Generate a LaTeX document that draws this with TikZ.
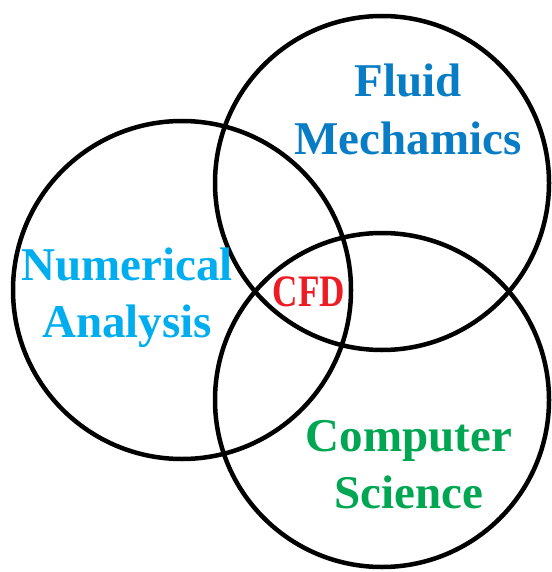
\documentclass[tikz,border=0pt]{standalone}
\usepackage{fontspec}
\setmainfont{Liberation Serif}
\definecolor{fluidblue}{RGB}{8,124,196}
\definecolor{numcyan}{RGB}{0,174,239}
\definecolor{cfdred}{RGB}{237,28,36}
\definecolor{csgreen}{RGB}{0,166,81}
\begin{document}
\begin{tikzpicture}[x=1pt,y=-1pt,
  ring/.style={draw=black,line width=4.5pt},
  lbl/.style={font=\bfseries\fontsize{47}{57}\selectfont,align=center,inner sep=0pt,anchor=base}]
\useasboundingbox (0,0) rectangle (551,572);
\coordinate (cf) at (382,183);
\coordinate (cn) at (182,290);
\coordinate (cc) at (382,400);
\draw[ring] (cf) circle[radius=167];
\draw[ring] (cn) circle[radius=169];
\draw[ring] (cc) circle[radius=167];
\node[lbl,text=fluidblue] (fm) at (408,154) {Fluid\\Mechamics};
\node[lbl,text=numcyan] (na) at (127,337) {Numerical\\Analysis};
\node[lbl,text=csgreen] (cs) at (409,508) {Computer\\Science};
\node[inner sep=0pt,anchor=base,text=cfdred,font=\bfseries\fontsize{45}{54}\selectfont,xscale=0.78,transform shape] (cfd) at (309,306) {CFD};
\end{tikzpicture}
\end{document}
